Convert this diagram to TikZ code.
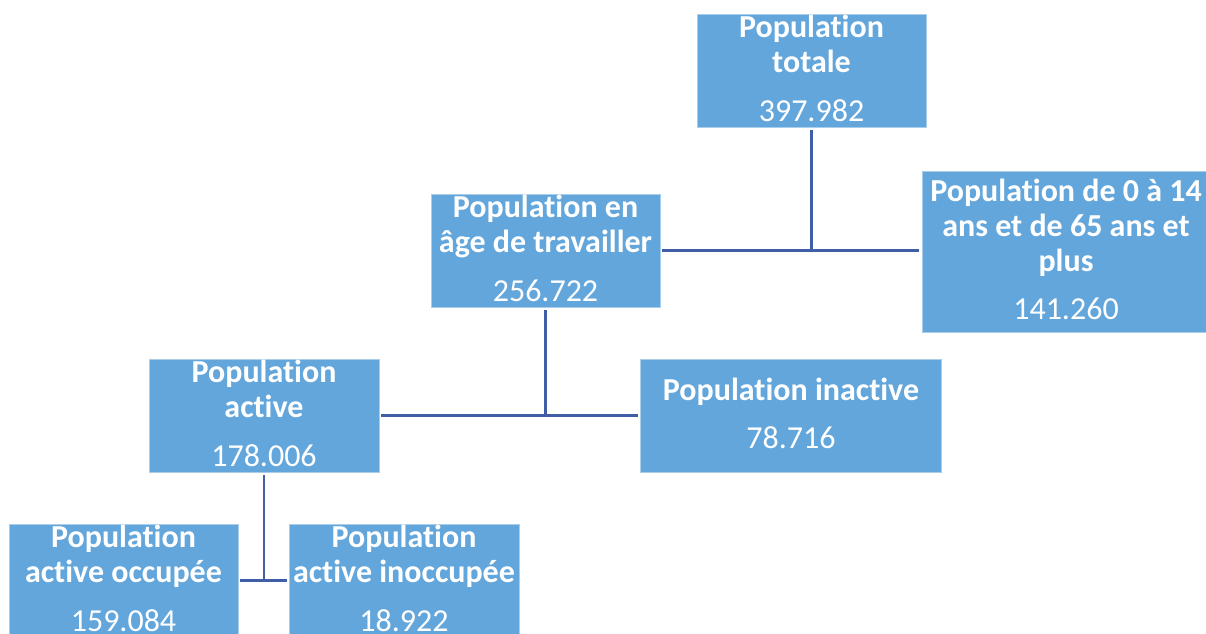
\documentclass[tikz,border=0pt]{standalone}
\usepackage{fontspec}
\setmainfont{Carlito}[Ligatures=NoCommon]
\definecolor{boxblue}{RGB}{99,166,219}
\definecolor{linkblue}{RGB}{63,94,166}
\newcommand\lowstrut{\rule[-4pt]{0pt}{4pt}}
\begin{document}
\begin{tikzpicture}[x=1pt,y=-1pt,
  orgbox/.style={rectangle, fill=boxblue, draw=white!45!boxblue, line width=0.6pt,
    text=white, inner sep=0pt, align=center,
    font=\fontsize{32}{35}\selectfont, minimum height=113pt},
  link/.style={draw=linkblue, line width=2.6pt}]
\clip (0,0) rectangle (1206,633);
\fill[white] (0,0) rectangle (1206,633);

\node[orgbox, minimum width=229pt] (tot) at (811.5,70.5)
  {\textbf{Population}\\\textbf{totale}\\[13.5pt]397.982\lowstrut};
\node[orgbox, minimum width=288pt, minimum height=161pt] (old) at (1066,251.5)
  {\textbf{Population de 0 à 14}\\\textbf{ans et de 65 ans et}\\\textbf{plus}\\[13pt]141.260\lowstrut};
\node[orgbox, minimum width=229pt] (age) at (545.5,250.5)
  {\textbf{Population en}\\\textbf{âge de travailler}\\[13.5pt]256.722\lowstrut};
\node[orgbox, minimum width=230pt] (act) at (264,415.5)
  {\textbf{Population}\\\textbf{active}\\[13.5pt]178.006\lowstrut};
\node[orgbox, minimum width=301pt] (inact) at (791,415.5)
  {\textbf{Population inactive}\\[13pt]78.716\lowstrut};
\node[orgbox, minimum width=229pt] (occ) at (123.5,580.5)
  {\textbf{Population}\\\textbf{active occupée}\\[13.5pt]159.084\lowstrut};
\node[orgbox, minimum width=230pt] (inocc) at (404,580.5)
  {\textbf{Population}\\\textbf{active inoccupée}\\[13.5pt]18.922\lowstrut};

\coordinate (j1) at (tot.south |- age.east);
\draw[link, shorten <=3pt] (tot.south) -- (j1);
\draw[link, shorten <=2pt, shorten >=3pt] (age.east) -- (old.west |- age.east);

\coordinate (j2) at (age.south |- act.east);
\draw[link, shorten <=3pt] (age.south) -- (j2);
\draw[link, shorten <=2pt, shorten >=2pt] (act.east) -- (inact.west |- act.east);

\coordinate (j3) at (act.south |- occ.east);
\draw[link, shorten <=3pt] (act.south) -- (j3);
\draw[link, shorten <=2pt, shorten >=2pt] (occ.east) -- (inocc.west |- occ.east);
\end{tikzpicture}
\end{document}
